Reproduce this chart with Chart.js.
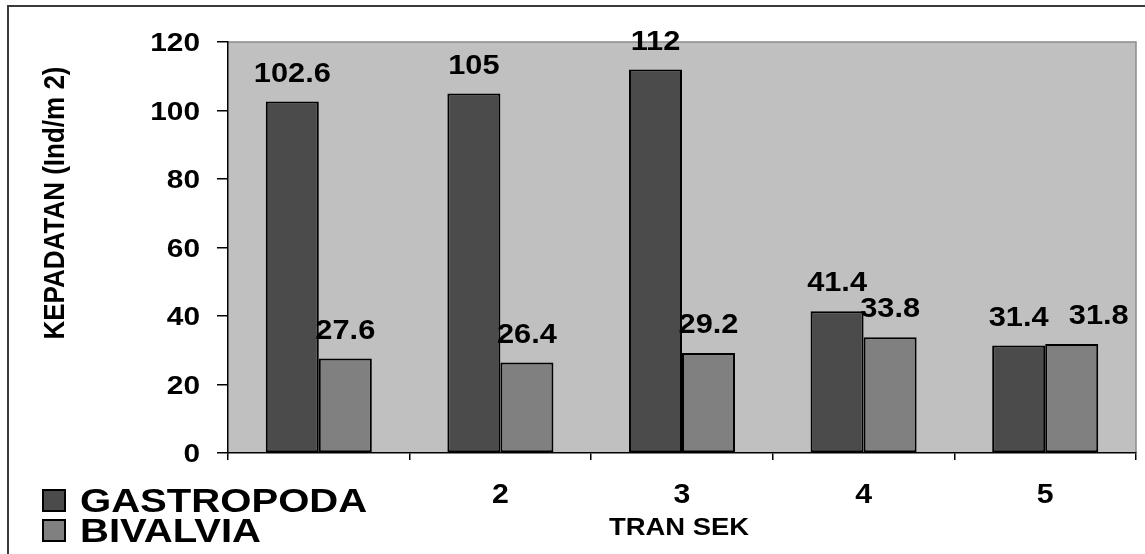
<!DOCTYPE html>
<html>
<head>
<meta charset="utf-8">
<script src="https://cdn.jsdelivr.net/npm/chart.js@4/dist/chart.umd.min.js"></script>
<style>
  html, body { margin: 0; padding: 0; background: #fff; }
  canvas { display: block; }
</style>
</head>
<body>
<canvas id="chart" width="1145" height="554"></canvas>
<script>
// Data
const transek = ['1', '2', '3', '4', '5'];
const gastropoda = [102.6, 105, 112, 41.4, 31.4];
const bivalvia = [27.6, 26.4, 29.2, 33.8, 31.8];
const yTicks = [0, 20, 40, 60, 80, 100, 120];
const seriesNames = ['GASTROPODA', 'BIVALVIA'];
const yTitle = 'KEPADATAN (Ind/m 2)';
const xTitle = 'TRAN SEK';

// Styling
const FONT = '"Liberation Sans", Arial, Helvetica, sans-serif';
const seriesFill = ['#4B4B4B', '#808080'];
const plotFill = '#C0C0C0';
// sideways nudge (px) for value labels that would otherwise collide
const labelNudgeX = [[0, 0, 0, 0, 0], [0, 0, 0, 0, 27]];

// bold text, widened horizontally by sx
function wideText(ctx, text, x, y, size, sx, align) {
  ctx.save();
  ctx.font = 'bold ' + size + 'px ' + FONT;
  ctx.textAlign = align;
  ctx.textBaseline = 'alphabetic';
  ctx.fillStyle = '#000';
  ctx.translate(x, y);
  ctx.scale(sx, 1);
  ctx.fillText(text, 0, 0);
  ctx.restore();
}

const framePlugin = {
  id: 'frame',
  beforeDraw(chart) {
    const ctx = chart.ctx, a = chart.chartArea;
    ctx.save();
    ctx.fillStyle = '#fff';
    ctx.fillRect(0, 0, chart.width, chart.height);
    // outer frame
    ctx.strokeStyle = '#3a3a3a';
    ctx.lineWidth = 2;
    ctx.strokeRect(8, 6, chart.width + 10, chart.height + 10);
    // plot area
    ctx.fillStyle = plotFill;
    ctx.fillRect(a.left, a.top, a.right - a.left, a.bottom - a.top);
    ctx.strokeStyle = '#8a8a8a';
    ctx.lineWidth = 1.5;
    ctx.beginPath();
    ctx.moveTo(a.left, a.top);
    ctx.lineTo(a.right, a.top);
    ctx.lineTo(a.right, a.bottom);
    ctx.stroke();
    ctx.restore();
  },
  afterDatasetsDraw(chart) {
    const ctx = chart.ctx;
    const fs = 27;
    chart.data.datasets.forEach((ds, di) => {
      chart.getDatasetMeta(di).data.forEach((el, i) => {
        const v = ds.data[i];
        const cy = el.y - 29.5;
        wideText(ctx, String(v), el.x + labelNudgeX[di][i], cy + 0.358 * fs, fs, 1.14, 'center');
      });
    });
  },
  afterDraw(chart) {
    const ctx = chart.ctx;
    const ys = chart.scales.y, xs = chart.scales.x;
    // value axis numbers
    yTicks.forEach(t => {
      const py = ys.getPixelForValue(t);
      wideText(ctx, String(t), 200, py + 0.358 * 25.5, 25.5, 1.17, 'right');
    });
    // category numbers
    transek.forEach((c, i) => {
      wideText(ctx, c, xs.getPixelForValue(i), 493 + 0.358 * 27, 27, 1.12, 'center');
    });
    // axis titles
    wideText(ctx, xTitle, (xs.left + xs.right) / 2 - 3, 526 + 0.358 * 24.7, 24.7, 1.11, 'center');
    ctx.save();
    ctx.font = 'bold 26px ' + FONT;
    ctx.fillStyle = '#000';
    ctx.textAlign = 'center';
    ctx.textBaseline = 'middle';
    ctx.translate(56, 203);
    ctx.scale(1.14, 1);
    ctx.rotate(-Math.PI / 2);
    ctx.fillText(yTitle, 0, 0);
    ctx.restore();
    // legend
    ctx.save();
    ctx.fillStyle = '#fff';
    ctx.fillRect(36, 484, 345, 64);
    const rows = [500, 530];
    chart.data.datasets.forEach((ds, di) => {
      const cy = rows[di];
      ctx.fillStyle = ds.backgroundColor;
      ctx.fillRect(43, cy - 10, 22, 21);
      ctx.strokeStyle = '#000';
      ctx.lineWidth = 2;
      ctx.strokeRect(43, cy - 10, 22, 21);
      wideText(ctx, ds.label, 80, cy + 0.358 * 32.6, 32.6, 1.23, 'left');
    });
    ctx.restore();
  }
};

new Chart(document.getElementById('chart'), {
  type: 'bar',
  data: {
    labels: transek,
    datasets: [
      { label: seriesNames[0], data: gastropoda, backgroundColor: seriesFill[0],
        borderColor: '#000', borderWidth: 2, borderSkipped: false },
      { label: seriesNames[1], data: bivalvia, backgroundColor: seriesFill[1],
        borderColor: '#000', borderWidth: 2, borderSkipped: false }
    ]
  },
  options: {
    responsive: false,
    animation: false,
    devicePixelRatio: 1,
    layout: { padding: { left: 0, top: 42, right: 9, bottom: 0 } },
    datasets: { bar: { barPercentage: 1, categoryPercentage: 0.584 } },
    plugins: { legend: { display: false }, tooltip: { enabled: false } },
    scales: {
      x: {
        ticks: { display: false },
        grid: { offset: true, drawOnChartArea: false, drawTicks: true, tickLength: 7, color: '#000', lineWidth: 1.5 },
        border: { display: true, color: '#000', width: 1.5 },
        afterFit(s) { s.height = 101; }
      },
      y: {
        min: 0, max: 120,
        ticks: { display: false, stepSize: 20 },
        grid: { drawOnChartArea: false, drawTicks: true, tickLength: 11, color: '#000', lineWidth: 1.5 },
        border: { display: true, color: '#000', width: 1.5 },
        afterFit(s) { s.width = 228; }
      }
    }
  },
  plugins: [framePlugin]
});
</script>
</body>
</html>
